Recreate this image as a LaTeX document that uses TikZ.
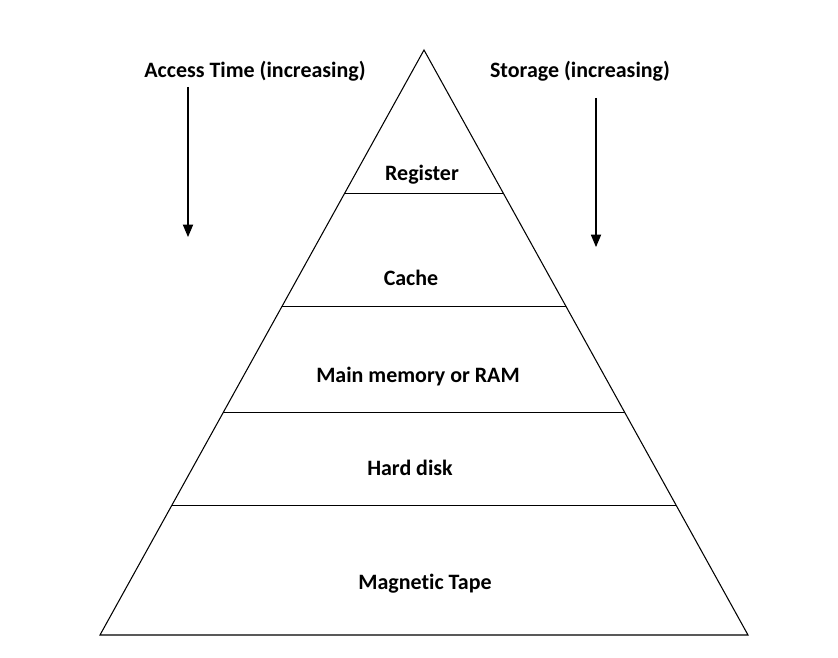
\documentclass[tikz,border=0pt]{standalone}
\usepackage{fontspec}
\setmainfont{Carlito}[Ligatures=NoCommon]
\usetikzlibrary{arrows,calc}

\begin{document}
\begin{tikzpicture}[x=0.02cm,y=-0.02cm,>=triangle 45,semithick,
                    level/.style={font=\bfseries\fontsize{12.5}{14}\selectfont},
                    heading/.style={font=\bfseries\fontsize{12.5}{14}\selectfont}]

	\useasboundingbox (0,0) rectangle (838,658);

	\coordinate (top) at (424,50);
	\coordinate (bl) at (100,635);
	\coordinate (br) at (748,635);
	\draw (top) -- (bl) -- (br) -- cycle;

	% shelves of the pyramid
	\foreach \t/\n in {0.246/a,0.439/b,0.619/c,0.778/d}
	{
		\coordinate (l\n) at ($(top)!\t!(bl)$);
		\coordinate (r\n) at ($(top)!\t!(br)$);
		\draw (l\n) -- (r\n);
	}

	\node[level] (reg)  at (422,175) {Register};
	\node[level] (cache) at (411,278) {Cache};
	\node[level] (ram)  at (418,377) {Main memory or RAM};
	\node[level] (hdd)  at (410,468) {Hard disk};
	\node[level] (tape) at (425,584) {Magnetic Tape};

	\node[heading] (access)  at (255,71) {Access Time (increasing)};
	\node[heading] (storage) at (580,71) {Storage (increasing)};

	\coordinate (a1) at (188,87);
	\coordinate (a2) at (188,237);
	\coordinate (s1) at (596,98);
	\coordinate (s2) at (596,247);
	\draw[->] (a1) -- (a2);
	\draw[->] (s1) -- (s2);

\end{tikzpicture}
\end{document}
